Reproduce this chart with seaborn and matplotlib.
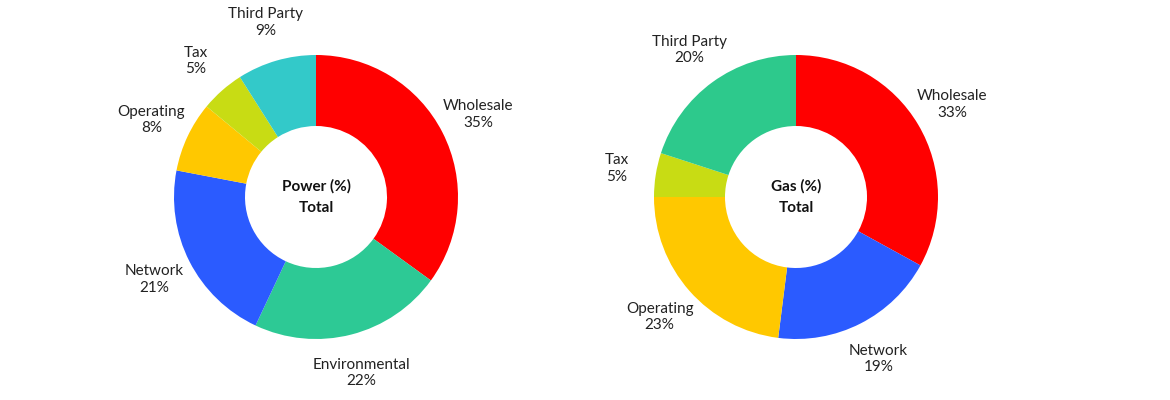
import matplotlib
matplotlib.use("Agg")
import matplotlib.pyplot as plt
import seaborn as sns

sns.set_theme(style="white")

power_labels = ["Wholesale", "Environmental", "Network", "Operating", "Tax", "Third Party"]
power_values = [35, 22, 21, 8, 5, 9]
power_colors = ["#FF0000", "#2DC995", "#2B5BFF", "#FFC800", "#C8DC14", "#33C9C9"]

gas_labels = ["Wholesale", "Network", "Operating", "Tax", "Third Party"]
gas_values = [33, 19, 23, 5, 20]
gas_colors = ["#FF0000", "#2B5BFF", "#FFC800", "#C8DC14", "#2DC98C"]

W, H = 1170, 400
fig = plt.figure(figsize=(W / 100, H / 100), dpi=100)
R = 142.0

def donut(cx, cy, labels, values, colors, title):
    ax = fig.add_axes([(cx - 200) / W, (H - cy - 200) / H, 400 / W, 400 / H])
    half = 200 / R
    wedges, texts = ax.pie(values, colors=colors, startangle=90, counterclock=False,
                           labels=[f"{l}\n{v}%" for l, v in zip(labels, values)],
                           labeldistance=1.28,
                           wedgeprops=dict(width=0.5, edgecolor="none"),
                           textprops=dict(fontsize=11, color="#222222", family="Lato"))
    for t in texts:
        t.set_ha("center")
        t.set_va("center")
    ax.text(0, 0, title, ha="center", va="center", fontsize=11, fontweight="bold",
            color="#111111", family="Lato", linespacing=1.6)
    ax.set_xlim(-half, half)
    ax.set_ylim(-half, half)
    ax.set_aspect("equal")
    ax.axis("off")

donut(316, 197, power_labels, power_values, power_colors, "Power (%)\nTotal")
donut(796, 197, gas_labels, gas_values, gas_colors, "Gas (%)\nTotal")

fig.savefig("out.png", dpi=100, facecolor="white")
